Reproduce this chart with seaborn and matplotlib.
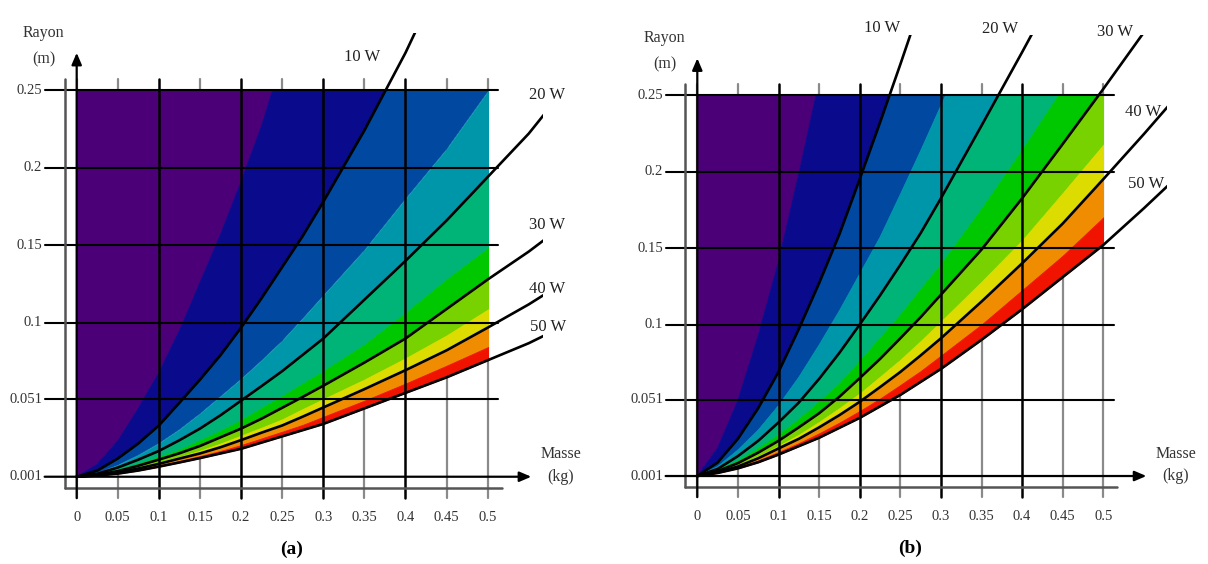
import matplotlib
matplotlib.use("Agg")
import matplotlib.pyplot as plt
import seaborn as sns
from matplotlib.patches import Rectangle

# masse (kg) at which every iso-power boundary was read
masse = [0, 0.025, 0.05, 0.075, 0.1, 0.125, 0.15, 0.175, 0.2, 0.225, 0.25, 0.275,
         0.3, 0.35, 0.4, 0.45, 0.5, 0.55, 0.6]

# levels in W, one boundary per level
levels = [5, 10, 15, 20, 25, 30, 35, 40, 45, 50]

# (a) rayon (m) of each boundary
a05 = [0.001, 0.009, 0.024, 0.045, 0.068, 0.095, 0.126, 0.157, 0.191, 0.227, 0.27, 0.321, 0.373, 0.48, 0.59, 0.70, 0.81, 0.92, 1.03]
a10 = [0.001, 0.0049, 0.0127, 0.0224, 0.034, 0.0486, 0.0635, 0.0793, 0.097, 0.116, 0.136, 0.156, 0.178, 0.224, 0.274, 0.33, 0.39, 0.45, 0.51]
a15 = [0.001, 0.0035, 0.0086, 0.015, 0.0226, 0.0315, 0.0417, 0.0528, 0.064, 0.076, 0.0886, 0.103, 0.1177, 0.147, 0.180, 0.212, 0.249, 0.297, 0.345]
a20 = [0.001, 0.0029, 0.0069, 0.012, 0.0176, 0.0245, 0.032, 0.0406, 0.050, 0.0594, 0.069, 0.0795, 0.090, 0.115, 0.140, 0.166, 0.194, 0.222, 0.255]
a25 = [0.001, 0.0025, 0.0053, 0.0092, 0.0137, 0.0184, 0.0245, 0.0307, 0.0375, 0.0454, 0.053, 0.061, 0.069, 0.086, 0.1065, 0.128, 0.148, 0.171, 0.193]
a30 = [0.001, 0.0023, 0.0046, 0.0081, 0.012, 0.0161, 0.0208, 0.0264, 0.032, 0.0384, 0.0454, 0.0524, 0.0596, 0.0745, 0.090, 0.109, 0.128, 0.146, 0.166]
a35 = [0.001, 0.0022, 0.004, 0.007, 0.0103, 0.0139, 0.0178, 0.0224, 0.0275, 0.0326, 0.038, 0.0446, 0.051, 0.0636, 0.0773, 0.092, 0.1086, 0.126, 0.143]
a40 = [0.001, 0.002, 0.0037, 0.0063, 0.0093, 0.0127, 0.016, 0.020, 0.0246, 0.0294, 0.034, 0.0397, 0.0456, 0.0574, 0.0696, 0.0824, 0.097, 0.112, 0.1286]
a45 = [0.001, 0.0019, 0.0033, 0.0056, 0.0083, 0.0111, 0.0143, 0.0176, 0.0214, 0.0257, 0.030, 0.0344, 0.0396, 0.050, 0.061, 0.0725, 0.0844, 0.0977, 0.112]
a50 = [0.001, 0.0018, 0.003, 0.005, 0.0075, 0.0102, 0.013, 0.016, 0.019, 0.023, 0.027, 0.031, 0.035, 0.045, 0.055, 0.065, 0.076, 0.087, 0.100]

# (b) rayon (m) of each boundary
b05 = [0.001, 0.0192, 0.0504, 0.0928, 0.141, 0.1985, 0.259, 0.3215, 0.385, 0.449, 0.515, 0.58, 0.65, 0.78, 0.91, 1.05, 1.17, 1.3, 1.45]
b10 = [0.001, 0.0098, 0.0253, 0.0453, 0.069, 0.097, 0.127, 0.159, 0.195, 0.232, 0.270, 0.309, 0.348, 0.427, 0.51, 0.586, 0.67, 0.75, 0.83]
b15 = [0.001, 0.0071, 0.018, 0.031, 0.047, 0.0655, 0.0866, 0.109, 0.133, 0.157, 0.185, 0.2135, 0.243, 0.301, 0.362, 0.423, 0.485, 0.55, 0.61]
b20 = [0.001, 0.0056, 0.014, 0.024, 0.036, 0.049, 0.0645, 0.0815, 0.100, 0.119, 0.139, 0.1597, 0.1825, 0.230, 0.278, 0.327, 0.377, 0.427, 0.48]
b25 = [0.001, 0.0047, 0.0105, 0.0187, 0.0276, 0.0377, 0.0492, 0.061, 0.0757, 0.0908, 0.106, 0.1226, 0.139, 0.175, 0.2135, 0.2536, 0.294, 0.336, 0.377]
b30 = [0.001, 0.0042, 0.0094, 0.0163, 0.024, 0.0328, 0.042, 0.0528, 0.065, 0.0775, 0.091, 0.1048, 0.1195, 0.149, 0.1825, 0.218, 0.254, 0.291, 0.328]
b35 = [0.001, 0.0038, 0.0081, 0.0141, 0.0207, 0.028, 0.0364, 0.0454, 0.055, 0.0659, 0.077, 0.0892, 0.102, 0.128, 0.155, 0.186, 0.2175, 0.25, 0.283]
b40 = [0.001, 0.0035, 0.0072, 0.0126, 0.019, 0.0253, 0.0328, 0.0408, 0.0495, 0.0591, 0.069, 0.0798, 0.091, 0.115, 0.140, 0.166, 0.195, 0.2245, 0.255]
b45 = [0.001, 0.0032, 0.0066, 0.0112, 0.0167, 0.0225, 0.0289, 0.0359, 0.0435, 0.0516, 0.0605, 0.0696, 0.0797, 0.100, 0.1225, 0.145, 0.170, 0.1965, 0.225]
b50 = [0.001, 0.003, 0.006, 0.010, 0.015, 0.0205, 0.026, 0.0325, 0.039, 0.0465, 0.054, 0.0625, 0.071, 0.090, 0.110, 0.131, 0.152, 0.176, 0.201]

xticks = [0, 0.05, 0.1, 0.15, 0.2, 0.25, 0.3, 0.35, 0.4, 0.45, 0.5]
xtick_labels = ["0", "0.05", "0.1", "0.15", "0.2", "0.25", "0.3", "0.35", "0.4", "0.45", "0.5"]
yticks = [0.25, 0.2, 0.15, 0.1, 0.051, 0.001]
ytick_labels = ["0.25", "0.2", "0.15", "0.1", "0.051", "0.001"]

# band colours, from the region above 5 W down to 45-50 W
band_colors = ["#4b0078", "#0a0a8c", "#0048a0", "#0096aa", "#00b478",
               "#00c800", "#78d200", "#dcdc00", "#f08c00", "#f01400"]

sns.set_style("white")
plt.rcParams["font.family"] = ["Liberation Serif", "DejaVu Serif"]
TXT = "#333333"

fig = plt.figure(figsize=(12.08, 5.64), dpi=100)


def draw_panel(ax, bounds, xlim, ylim, line_clip, labels, letter):
    ax.set_xlim(*xlim)
    ax.set_ylim(*ylim)
    ax.axis("off")

    # minor verticals sit under the colour
    for x in xticks:
        if x in (0.1, 0.2, 0.3, 0.4):
            continue
        ax.plot([x, x], [-0.0128, 0.257], color="#8a8a8a", lw=1.6, zorder=1)

    field = Rectangle((0, 0), 0.5, 0.25, transform=ax.transData)
    uppers = [[1.5] * len(masse)] + bounds[:-1]
    for upper, lower, c in zip(uppers, bounds, band_colors):
        poly = ax.fill_between(masse, lower, upper, color=c, lw=0.6, zorder=2)
        poly.set_clip_path(field)

    for x in (0.1, 0.2, 0.3, 0.4):
        ax.plot([x, x], [-0.0128, 0.257], color="black", lw=1.8, zorder=3)
    for y in yticks[:-1]:
        ax.plot([-0.039, 0.513], [y, y], color="black", lw=1.5, zorder=3)

    # frame
    ax.plot([-0.0147, -0.0147], [-0.0061, 0.257], color="#555555", lw=1.8, zorder=3)
    ax.plot([-0.0147, 0.517], [-0.0061, -0.0061], color="#555555", lw=1.8, zorder=3)

    # iso-power curves 10..50 W
    clip = Rectangle((-0.1, -0.1), 0.1 + line_clip[0], 0.1 + line_clip[1],
                     transform=ax.transData)
    for k in range(1, 10, 2):
        sns.lineplot(x=masse, y=bounds[k], ax=ax, color="black", lw=1.9,
                     estimator=None, sort=False, zorder=4)
        ax.lines[-1].set_clip_path(clip)

    # axes with arrows
    arrow = dict(arrowstyle="-|>,head_length=0.7,head_width=0.3", color="black", lw=1.6,
                 shrinkA=0, shrinkB=0)
    ax.annotate("", xy=(0, 0.274), xytext=(0, -0.0128), arrowprops=arrow, zorder=5)
    ax.annotate("", xy=(0.553, 0.001), xytext=(-0.039, 0.001), arrowprops=arrow, zorder=5)

    for y, t in zip(yticks, ytick_labels):
        ax.text(-0.042, y, t, ha="right", va="center", fontsize=10.5, color=TXT)
    for x, t in zip(xticks, xtick_labels):
        ax.text(x, -0.0255, t, ha="center", va="center", fontsize=10.5, color=TXT)

    ax.text(-0.04, 0.287, "Rayon", ha="center", va="center", fontsize=11.5, color=TXT)
    ax.text(-0.04, 0.270, "(m)", ha="center", va="center", fontsize=11.5, color=TXT)
    ax.text(0.589, 0.0155, "Masse", ha="center", va="center", fontsize=11.5, color=TXT)
    ax.text(0.589, 0.0008, "(kg)", ha="center", va="center", fontsize=11.5, color=TXT)

    for (x, y), lev in zip(labels, levels[1::2]):
        ax.text(x, y, f"{lev} W", ha="center", va="center", fontsize=12, color="#222222")

    ax.text(0.262, -0.046, letter, ha="center", va="center", fontsize=14,
            fontweight="bold", color="black")


ax_a = fig.add_axes([0, 0, 0.5, 1])
draw_panel(ax_a, [a05, a10, a15, a20, a25, a30, a35, a40, a45, a50],
           (-0.0933, 0.6415), (-0.0552, 0.308), (0.567, 0.287),
           [(0.347, 0.271), (0.572, 0.247), (0.572, 0.163), (0.572, 0.122), (0.574, 0.0976)],
           "(a)")

ax_b = fig.add_axes([0.5, 0, 0.5, 1])
draw_panel(ax_b, [b05, b10, b15, b20, b25, b30, b35, b40, b45, b50],
           (-0.1149, 0.6289), (-0.0565, 0.3121), (0.578, 0.289),
           [(0.227, 0.2936), (0.373, 0.293), (0.514, 0.2914), (0.549, 0.239), (0.553, 0.192)],
           "(b)")

fig.savefig("out.png", dpi=100)
